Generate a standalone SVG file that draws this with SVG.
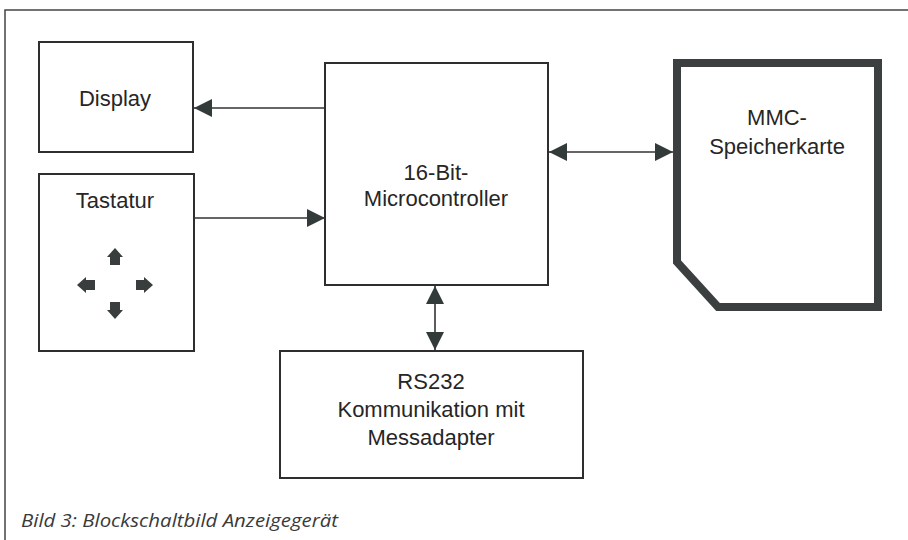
<svg xmlns="http://www.w3.org/2000/svg" width="908" height="540" viewBox="0 0 908 540">
<style>
.box{fill:#fff;stroke:#2e2e2e;stroke-width:2}
.lbl{font-family:"Liberation Sans",Arial,sans-serif;font-size:22px;fill:#262626;text-anchor:middle}
.con{stroke:#333;stroke-width:1.6;fill:none}
.key{fill:#3a3d3d}
.cap{font-family:"Open Sans","Noto Sans",sans-serif;font-style:italic;font-size:19px;fill:#3a3a3a}
</style>
<defs>
<marker id="ah" viewBox="0 0 18 18" refX="18" refY="9" markerWidth="18" markerHeight="18" markerUnits="userSpaceOnUse" orient="auto-start-reverse">
<path d="M0,0 L18,9 L0,18 Z" fill="#333a3a"/>
</marker>
</defs>
<rect width="908" height="540" fill="#fff"/>
<g id="frame">
<path d="M5,540 V10 H908" fill="none" stroke="#444" stroke-width="1.5"/>
</g>
<g id="display">
<rect class="box" x="39" y="42" width="154" height="110"/>
<text class="lbl" x="115" y="106">Display</text>
</g>
<g id="tastatur">
<rect class="box" x="39" y="174" width="155" height="177"/>
<text class="lbl" x="115" y="208">Tastatur</text>
<path class="key" d="M115,248 L123,257 L120,257 L120,265 L110,265 L110,257 L107,257 Z"/>
<path class="key" d="M115,319 L123,310 L120,310 L120,302 L110,302 L110,310 L107,310 Z"/>
<path class="key" d="M77,285 L86,277 L86,280 L95,280 L95,290 L86,290 L86,293 Z"/>
<path class="key" d="M153,285 L144,277 L144,280 L136,280 L136,290 L144,290 L144,293 Z"/>
</g>
<g id="microcontroller">
<rect class="box" x="325" y="63" width="223" height="222"/>
<text class="lbl" x="436" y="180">16-Bit-</text>
<text class="lbl" x="436" y="206">Microcontroller</text>
</g>
<g id="mmc">
<path d="M677,63 H878 V307 H718 L677,262 Z" fill="#fff" stroke="#3c3f3f" stroke-width="8" stroke-linejoin="miter"/>
<text class="lbl" x="777" y="125">MMC-</text>
<text class="lbl" x="777" y="154">Speicherkarte</text>
</g>
<g id="rs232">
<rect class="box" x="280" y="351" width="303" height="127"/>
<text class="lbl" x="431" y="389">RS232</text>
<text class="lbl" x="431" y="417">Kommunikation mit</text>
<text class="lbl" x="431" y="445">Messadapter</text>
</g>
<g id="connectors">
<line class="con" x1="325" y1="108" x2="194" y2="108" marker-end="url(#ah)"/>
<line class="con" x1="194" y1="218" x2="325" y2="218" marker-end="url(#ah)"/>
<line class="con" x1="549" y1="152" x2="673" y2="152" marker-start="url(#ah)" marker-end="url(#ah)"/>
<line class="con" x1="435" y1="286" x2="435" y2="350" marker-start="url(#ah)" marker-end="url(#ah)"/>
</g>
<g id="caption">
<text class="cap" x="21" y="527" textLength="317" lengthAdjust="spacingAndGlyphs">Bild 3: Blockschaltbild Anzeigegerät</text>
</g>
</svg>
